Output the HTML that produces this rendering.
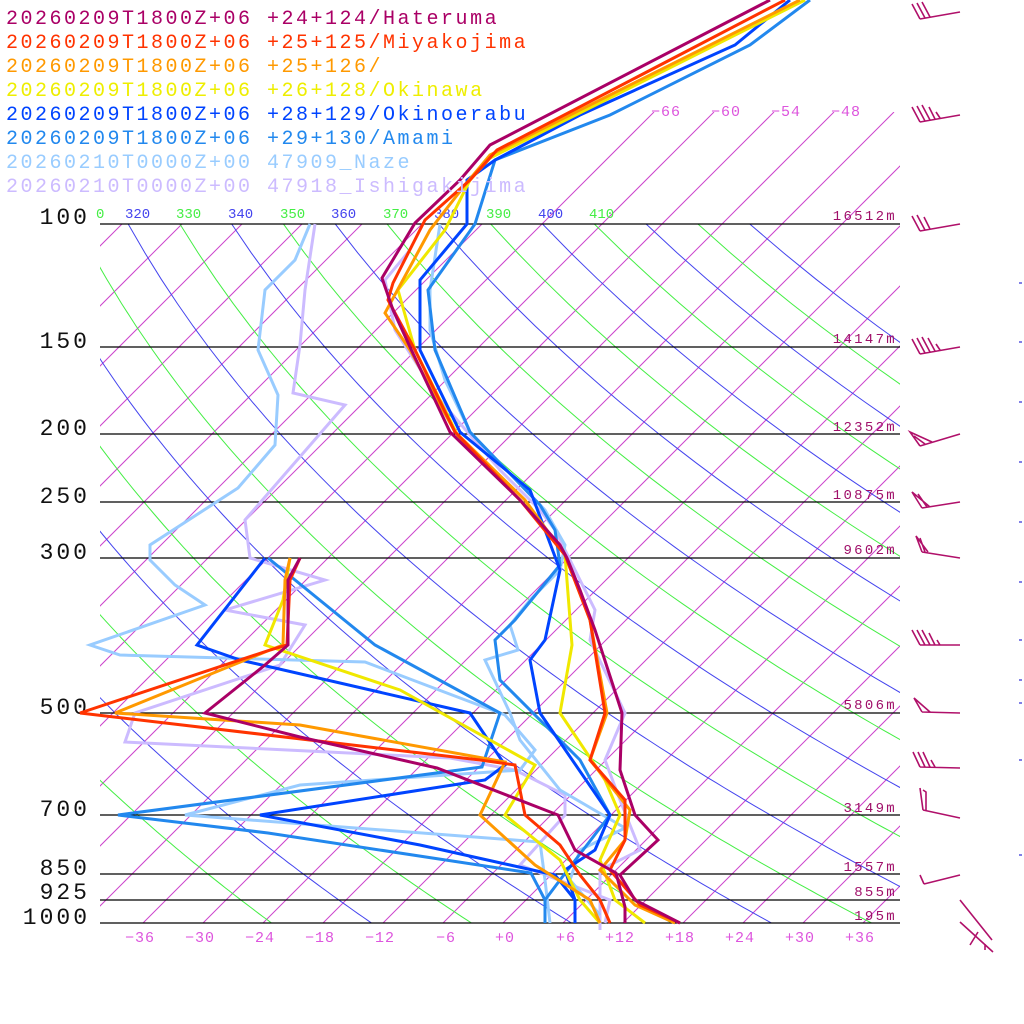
<!DOCTYPE html>
<html><head><meta charset="utf-8"><style>
html,body{margin:0;padding:0;background:#fff;width:1024px;height:1024px;overflow:hidden}
svg{display:block}
text{font-family:"Liberation Mono",monospace}
</style></head><body>
<svg id="s" width="1024" height="1024" viewBox="0 0 1024 1024" xmlns="http://www.w3.org/2000/svg">
<defs>
<clipPath id="cA"><rect x="100" y="224" width="800" height="699"/></clipPath>
<clipPath id="cB"><rect x="100" y="112" width="800" height="811"/></clipPath>
</defs>
<g id="iso" fill="none" stroke="#cc44cc" stroke-width="1"></g>
<g id="th" fill="none" stroke-width="1"></g>
<g stroke="#000" stroke-width="1.3">
<line x1="100" y1="224" x2="900" y2="224"/><line x1="100" y1="347" x2="900" y2="347"/>
<line x1="100" y1="434" x2="900" y2="434"/><line x1="100" y1="502" x2="900" y2="502"/>
<line x1="100" y1="558" x2="900" y2="558"/><line x1="100" y1="713" x2="900" y2="713"/>
<line x1="100" y1="815" x2="900" y2="815"/><line x1="100" y1="874" x2="900" y2="874"/>
<line x1="100" y1="900" x2="900" y2="900"/><line x1="100" y1="923" x2="900" y2="923"/>
</g>
<g font-size="23" fill="#111" text-anchor="end" style="font-family:'Liberation Sans',sans-serif;letter-spacing:3px">
<text x="90" y="224">100</text><text x="90" y="348">150</text><text x="90" y="435">200</text>
<text x="90" y="503">250</text><text x="90" y="559">300</text><text x="90" y="714">500</text>
<text x="90" y="816">700</text><text x="90" y="875">850</text><text x="90" y="899">925</text><text x="90" y="924">1000</text>
</g>
<g font-size="14" fill="#a0106a" text-anchor="end" style="letter-spacing:2.3px">
<text x="897" y="220">16512m</text><text x="897" y="343">14147m</text><text x="897" y="431">12352m</text>
<text x="897" y="499">10875m</text><text x="897" y="554">9602m</text><text x="897" y="709">5806m</text>
<text x="897" y="812">3149m</text><text x="897" y="871">1557m</text><text x="897" y="896">855m</text><text x="897" y="920">195m</text>
</g>
<g font-size="15" fill="#dd55dd" text-anchor="middle" style="letter-spacing:1px">
<text x="140" y="942">−36</text><text x="200" y="942">−30</text><text x="260" y="942">−24</text><text x="320" y="942">−18</text>
<text x="380" y="942">−12</text><text x="446" y="942">−6</text><text x="505" y="942">+0</text><text x="566" y="942">+6</text>
<text x="620" y="942">+12</text><text x="680" y="942">+18</text><text x="740" y="942">+24</text><text x="800" y="942">+30</text><text x="860" y="942">+36</text>
<text x="666" y="116">−66</text><text x="726" y="116">−60</text><text x="786" y="116">−54</text><text x="846" y="116">−48</text>
</g>
<g font-size="14">
<text x="96" y="218" fill="#44ee44">0</text>
<text x="125" y="218" fill="#4444ee">320</text><text x="176" y="218" fill="#44ee44">330</text>
<text x="228" y="218" fill="#4444ee">340</text><text x="280" y="218" fill="#44ee44">350</text>
<text x="331" y="218" fill="#4444ee">360</text><text x="383" y="218" fill="#44ee44">370</text>
<text x="434" y="218" fill="#4444ee">380</text><text x="486" y="218" fill="#44ee44">390</text>
<text x="538" y="218" fill="#4444ee">400</text><text x="589" y="218" fill="#44ee44">410</text>
</g>
<g id="prof" fill="none" stroke-width="3" stroke-linejoin="miter"></g>
<g font-size="20" style="letter-spacing:2.5px">
<text x="6" y="24" fill="#aa0066">20260209T1800Z+06 +24+124/Hateruma</text>
<text x="6" y="48" fill="#ff3300">20260209T1800Z+06 +25+125/Miyakojima</text>
<text x="6" y="72" fill="#ff9900">20260209T1800Z+06 +25+126/</text>
<text x="6" y="96" fill="#eeee00">20260209T1800Z+06 +26+128/Okinawa</text>
<text x="6" y="120" fill="#0044ff">20260209T1800Z+06 +28+129/Okinoerabu</text>
<text x="6" y="144" fill="#2288ee">20260209T1800Z+06 +29+130/Amami</text>
<text x="6" y="168" fill="#99ccff">20260210T0000Z+00 47909_Naze</text>
<text x="6" y="192" fill="#ccbbff">20260210T0000Z+00 47918_Ishigakijima</text>
</g>
<g fill="none" stroke="#b0106a" stroke-width="1.6">
<path d="M960,12 L920,19 M920,19 L912,4 M925,18 L917,3 M930,17 L922,2"/>
<path d="M960,115 L920,122 M920,122 L912,107 M925,121 L917,106 M930,120 L922,105 M935,119 L929,107 M940,118 L936,112"/>
<path d="M960,224 L920,231 M920,231 L912,216 M925,230 L917,215 M930,229 L924,217"/>
<path d="M960,347 L920,354 M920,354 L912,339 M925,353 L917,338 M930,352 L922,337 M935,351 L928,338 M940,350 L936,344"/>
<path d="M960,434 L920,446 M920,446 L910,432 L932,442 M925,444 L914,436"/>
<path d="M960,502 L922,508 M922,508 L912,492 L930,507 M927,507 L918,494"/>
<path d="M960,558 L922,552 M922,552 L916,536 L928,552 M925,552 L920,538"/>
<path d="M960,645 L920,645 M920,645 L912,630 M925,645 L917,630 M930,645 L922,630 M935,645 L929,633 M940,645 L937,640"/>
<path d="M960,713 L922,712 M922,712 L914,698 L930,712"/>
<path d="M960,768 L920,767 M920,767 L913,752 M925,767 L918,752 M930,767 L923,752 M935,767 L931,760"/>
<path d="M960,818 L923,810 M923,810 L920,788 M923,790 L926,792 L926,810"/>
<path d="M960,875 L924,884 M924,884 L920,875"/>
<path d="M960,900 L992,940 M960,922 L993,952 M978,932 L970,945 M985,944 L985,950"/>
</g>
<g stroke="#5555dd" stroke-width="1.5">
<line x1="1019" y1="283" x2="1022" y2="283"/><line x1="1019" y1="342" x2="1022" y2="342"/>
<line x1="1019" y1="402" x2="1022" y2="402"/><line x1="1019" y1="462" x2="1022" y2="462"/>
<line x1="1019" y1="522" x2="1022" y2="522"/><line x1="1019" y1="582" x2="1022" y2="582"/>
<line x1="1019" y1="640" x2="1022" y2="640"/><line x1="1019" y1="680" x2="1022" y2="680"/>
<line x1="1019" y1="703" x2="1022" y2="703"/><line x1="1019" y1="760" x2="1022" y2="760"/>
<line x1="1019" y1="855" x2="1022" y2="855"/>
</g>
</svg>
<script>
(function(){
var NS="http://www.w3.org/2000/svg";
function el(p,tag,a){var e=document.createElementNS(NS,tag);for(var k in a)e.setAttribute(k,a[k]);p.appendChild(e);return e;}
function Y(p){return 923-303.6*Math.log(1000/p);}
function X(T,y){return 503+10*T+(923-y);}
var iso=document.getElementById('iso');
var gA=el(iso,'g',{'clip-path':'url(#cA)'}),gB=el(iso,'g',{'clip-path':'url(#cB)'});
for(var T=-114;T<=42;T+=6){
  var y0=T<-66?224:112;var g=T<-66?gA:gB;
  el(g,'line',{x1:X(T,y0),y1:y0,x2:X(T,923),y2:923});
}
var th=document.getElementById('th');var gc=el(th,'g',{'clip-path':'url(#cA)'});
for(var t=250;t<=440;t+=10){
  var d="";for(var p=100;p<=1000;p+=10){var y=Y(p);var Tc=t*Math.pow(p/1000,0.2857)-273.15;d+=(p==100?"M":"L")+X(Tc,y).toFixed(1)+","+y.toFixed(1);}
  el(gc,'path',{d:d,stroke:((t/10)%2==0)?"#4444ee":"#44ee44"});
}
var P=document.getElementById('prof');
var S=[
["#aa0066","770,0 490,145 460,180 415,223 382,278 393,310 410,347 450,432 520,500 560,545 567,558 580,590 595,630 622,713 620,770 635,815 658,840 620,875 635,900 680,923"],
["#aa0066","300,558 288,580 288,645 265,665 205,713 300,737 437,768 558,815 575,850 616,873 625,907 625,923"],
["#ff3300","785,0 497,150 470,180 425,220 393,283 388,300 415,350 455,432 520,500 565,555 590,620 605,713 590,760 625,800 625,840 610,870 640,905 680,923"],
["#ff3300","300,558 290,580 287,645 270,650 80,713 480,760 515,765 525,815 560,845 580,875 600,900 610,923"],
["#ff9900","800,0 490,155 465,185 430,230 385,313 410,350 455,432 525,500 565,555 590,620 607,713 590,760 630,810 625,840 600,870 635,905 675,923"],
["#ff9900","290,558 285,580 283,645 265,652 115,713 300,725 505,762 480,815 535,865 590,900 600,923"],
["#f0e800","805,0 490,158 470,180 445,230 398,290 415,350 460,440 525,505 565,555 572,645 560,713 605,780 620,815 600,860 615,900 645,923"],
["#f0e800","290,558 283,600 265,645 400,690 535,765 505,815 560,860 580,900 600,923"],
["#0044ff","790,0 735,45 580,115 495,160 467,180 467,224 420,280 420,350 460,432 530,490 560,570 545,640 530,660 540,713 610,815 595,850 565,870 575,900 575,923"],
["#0044ff","265,558 197,645 240,660 470,713 505,765 485,780 260,815 420,845 555,875 575,900 575,923"],
["#2288ee","810,0 750,45 610,115 495,160 475,224 428,290 435,350 470,432 540,505 555,530 560,565 515,620 495,640 500,680 580,760 610,815 560,880 545,900 545,923"],
["#2288ee","268,558 375,645 500,713 482,767 118,815 268,833 531,873 545,900 545,923"],
["#99ccff","440,224 430,290 430,330 445,380 470,432 545,510 565,545 560,570 530,600 510,625 518,650 485,660 510,713 520,740 560,790 625,828 580,850 570,880 600,915"],
["#99ccff","310,224 295,260 265,290 258,350 278,395 275,445 238,488 150,545 150,560 175,585 205,605 90,645 120,655 365,662 505,715 535,750 520,770 300,785 185,815 540,842 545,880 550,923"],
["#ccbbff","410,250 385,280 395,330 440,400 500,470 540,510 555,530 570,560 595,610 590,640 625,713 605,760 620,800 640,850 600,870 600,930"],
["#ccbbff","315,224 305,290 300,345 293,393 345,405 245,520 250,558 325,580 225,610 305,625 280,665 135,713 125,742 450,758 515,770 565,795 565,815 520,865 610,900 605,923"]
];
for(var i=S.length-1;i>=0;i--)el(P,'polyline',{points:S[i][1],stroke:S[i][0]});
})();
</script>
</body></html>
